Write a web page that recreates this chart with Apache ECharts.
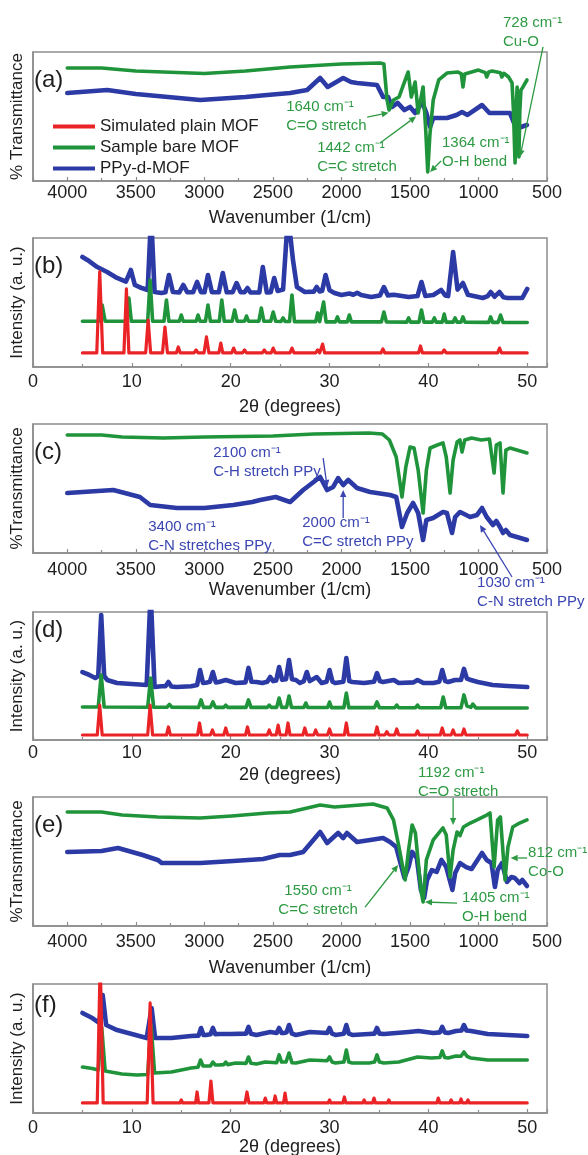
<!DOCTYPE html>
<html>
<head>
<meta charset="utf-8">
<script src="https://cdn.jsdelivr.net/npm/echarts@6/dist/echarts.min.js"></script>
<style>
  html, body { margin: 0; padding: 0; background: #fff; }
  #chart { width: 588px; height: 1155px; }
</style>
</head>
<body>
<div id="chart"></div>
<script>
// ---------- series names and tick labels ----------
const NAMES = ['Simulated plain MOF', 'Sample bare MOF', 'PPy-d-MOF'];
const ftirTickLabels = [4000, 3500, 3000, 2500, 2000, 1500, 1000, 500];
const xrdTickLabels = [0, 10, 20, 30, 40, 50];

// ---------- FTIR (a): Cu MOF ----------
const ftirA_bare = [[4000,87.6],[3750,87.6],[3500,85.3],[3000,83.3],[2700,85.3],[2374,88.4],[2000,90.7],[1718,91.5],[1690,90.7],[1667,62.8],[1652,55],[1620,62.8],[1580,65.1],[1513,84.5],[1490,65.1],[1462,76.7],[1440,52.7],[1404,72.9],[1385,40],[1370,7],[1355,35],[1330,62.8],[1290,78.3],[1230,83.7],[1150,84.5],[1125,83],[1113,72.9],[1100,83],[1090,84.5],[1000,86],[950,84],[940,80.6],[925,84.5],[900,85.3],[840,84],[830,80.6],[815,83.5],[780,80.6],[755,76],[745,55],[733,14],[725,55],[718,72.9],[712,60],[705,18.6],[698,55],[690,70.5],[675,72.9],[646,78.3]];
const ftirA_ppy = [[4000,68.2],[3708,70.5],[3500,67.4],[3030,62.8],[2700,65.1],[2542,66.7],[2374,68.2],[2250,70.5],[2155,79.8],[2100,72.9],[1987,79.8],[1930,76.7],[1886,76],[1740,74.4],[1696,65.1],[1659,65.1],[1630,57.4],[1590,60.5],[1540,55],[1499,57.4],[1462,52.7],[1411,61.2],[1380,52.7],[1353,41.9],[1330,48.8],[1229,48.8],[1160,51.2],[1120,53.5],[1080,51.2],[974,58.9],[920,52.7],[843,52.7],[770,52.7],[719,39.5],[690,41.9],[646,43.4]];

// ---------- XRD (b) ----------
const xrdB_sim = [[5,10.9],[6.45,10.9],[6.75,74],[7.05,10.9],[9.2,10.9],[9.45,60.5],[9.7,10.9],[11.4,10.9],[11.65,36.4],[11.9,10.9],[13.1,10.9],[13.35,31],[13.6,10.9],[14.5,10.9],[14.7,15.5],[14.9,10.9],[16.3,10.9],[16.5,13.2],[16.7,10.9],[17.3,10.9],[17.55,23.3],[17.8,10.9],[18.8,10.9],[19.0,18.6],[19.2,10.9],[20.1,10.9],[20.3,14.7],[20.5,10.9],[21.2,10.9],[21.4,13.2],[21.6,10.9],[23.2,10.9],[23.4,13.2],[23.6,10.9],[24.1,10.9],[24.3,14.7],[24.5,10.9],[26.0,10.9],[26.2,14.7],[26.4,10.9],[28.6,10.9],[28.8,13.2],[29.0,10.9],[29.1,10.9],[29.3,17.8],[29.5,10.9],[30.8,10.9],[31.0,12.4],[31.2,10.9],[31.8,10.9],[32.0,12],[32.2,10.9],[35.2,10.9],[35.4,14],[35.6,10.9],[38.0,10.9],[38.2,12.4],[38.4,10.9],[39.0,10.9],[39.2,16.3],[39.4,10.9],[40.3,10.9],[40.5,12],[40.7,10.9],[41.4,10.9],[41.6,13.2],[41.8,10.9],[42.6,10.9],[42.8,12.4],[43.0,10.9],[46.1,10.9],[46.3,12.4],[46.5,10.9],[47.0,10.9],[47.2,14.7],[47.4,10.9],[50,10.9]];
const xrdB_bare = [[5,35.5],[6.7,35.5],[7.0,48.1],[7.3,35.5],[9.45,35.5],[9.7,53.5],[9.95,35.5],[11.6,35.5],[11.85,67.4],[12.1,35.5],[13.25,35.5],[13.5,51.9],[13.75,35.5],[14.8,35.5],[15.0,40.3],[15.2,35.5],[16.5,35.5],[16.7,40.3],[16.9,35.5],[17.45,35.5],[17.7,48.1],[17.95,35.5],[18.85,35.5],[19.1,51.9],[19.35,35.5],[20.15,35.5],[20.4,44.2],[20.65,35.5],[21.4,35.5],[21.6,39.5],[21.8,35.5],[22.85,35.5],[23.1,45.7],[23.35,35.5],[24.05,35.5],[24.3,42.6],[24.55,35.5],[25.1,35.3],[25.3,38],[25.5,35.3],[25.95,35.3],[26.2,55.8],[26.45,35.2],[28.6,35.2],[28.8,41.9],[29.0,35.2],[29.15,35.2],[29.4,50.4],[29.65,35],[30.6,35],[30.8,38.8],[31.0,35],[31.8,35],[32.0,40.3],[32.2,35],[35.25,35],[35.5,42.6],[35.75,35],[37.8,34.8],[38.0,38],[38.2,34.8],[39.05,34.8],[39.3,44.2],[39.55,34.8],[40.4,34.8],[40.6,38],[40.8,34.8],[41.4,34.8],[41.6,41],[41.8,34.8],[42.5,34.8],[42.7,38],[42.9,34.8],[43.3,34.8],[43.5,38.8],[43.7,34.8],[46.1,34.6],[46.3,38.8],[46.5,34.6],[47.05,34.6],[47.3,40.3],[47.55,34.6],[50,34.5]];
const xrdB_ppy = [[5,85.3],[5.5,83],[6.5,77.5],[7.5,73.6],[8.5,69],[9.4,66.2],[9.9,75.2],[10.3,63.6],[11.0,61.2],[11.6,59.7],[11.95,118],[12.3,58.1],[13.0,57.4],[13.4,58],[13.75,71.3],[14.15,58.1],[14.8,57.8],[15.2,63.6],[15.6,58],[16.2,58],[16.6,65.9],[17.0,58],[17.35,58],[17.7,71.3],[18.1,58],[18.8,58],[19.2,72.9],[19.6,58],[20.2,58],[20.6,65.1],[21.0,58],[21.4,58],[21.7,61.2],[22.0,57.8],[22.9,57.8],[23.25,77.5],[23.65,57.8],[24.05,58],[24.4,69],[24.75,59],[25.3,60],[25.8,118],[26.3,83],[26.7,62],[27.5,58.1],[28.4,58.4],[28.7,62],[29.0,58.5],[29.25,59],[29.6,71.3],[30.0,59.5],[30.5,57.4],[31.2,55.8],[32.0,57],[32.4,56],[32.8,57.5],[33.2,55.8],[34.2,54.3],[35.1,55.5],[35.5,62],[35.9,55.5],[36.5,56],[38.0,54.3],[38.9,55],[39.3,65.9],[39.7,55],[40.5,55.8],[41.3,59.7],[41.7,55.5],[42.0,55],[42.5,89.1],[42.95,60],[43.5,65.1],[44.0,56],[44.2,56.5],[45.5,53.5],[46.0,55],[46.3,58.1],[46.7,54.5],[47.2,58.1],[47.6,54],[48.0,53.5],[49.5,53.5],[50,60.5]];

// ---------- FTIR (c) ----------
const ftirC_bare = [[4000,91.5],[3750,91.5],[3600,89.9],[3300,89.1],[3000,89.9],[2500,90.7],[2200,92.2],[1800,93],[1700,92.2],[1650,87.6],[1600,74.4],[1558,43.4],[1530,66.7],[1499,82.2],[1470,81.4],[1440,64.3],[1404,31],[1380,64.3],[1353,81.4],[1300,83.7],[1259,85.3],[1235,74.4],[1207,46.5],[1185,72.1],[1156,86],[1135,87.6],[1120,78.3],[1100,87.6],[1050,89.1],[980,87.6],[920,88.4],[886,62],[870,83.7],[843,85.3],[821,46.5],[800,79.8],[770,81.4],[720,79.8],[646,77.5]];
const ftirC_ppy = [[4000,46.5],[3664,48.8],[3470,43.4],[3395,37.2],[3200,34.9],[3000,34.9],[2789,37.2],[2650,39.5],[2593,41.1],[2480,43.4],[2374,39.5],[2279,48.8],[2155,58.9],[2104,48.8],[2060,51.2],[2024,58.1],[1987,52.7],[1950,56.6],[1886,50.4],[1790,47.3],[1645,45],[1600,43.4],[1558,20.2],[1520,31],[1477,38.8],[1440,31],[1404,10.1],[1380,25.6],[1331,27.1],[1259,31.8],[1230,31],[1193,15.5],[1170,27.9],[1134,31.8],[1061,27.9],[1010,29.5],[974,34.9],[940,27.9],[894,21.7],[870,24.8],[843,20.2],[821,15.5],[800,17.8],[770,14],[720,12.4],[646,10.1]];

// ---------- XRD (d) ----------
const xrdD_sim = [[5,3.9],[6.5,3.9],[6.75,27.3],[7.0,3.9],[11.6,3.9],[11.85,27.3],[12.1,3.9],[13.5,3.9],[13.7,10.2],[13.9,3.9],[16.65,3.9],[16.85,13.3],[17.05,3.9],[17.95,3.9],[18.15,7.8],[18.35,3.9],[19.3,3.9],[19.5,9.4],[19.7,3.9],[21.5,3.9],[21.7,10.2],[21.9,3.9],[23.7,3.9],[23.9,7.8],[24.1,3.9],[24.6,3.9],[24.8,11.7],[25.0,3.9],[25.6,3.9],[25.8,13.3],[26.0,3.9],[27.3,3.9],[27.5,9.4],[27.7,3.9],[28.4,3.9],[28.6,7.8],[28.8,3.9],[29.8,3.9],[30.0,8.6],[30.2,3.9],[31.5,3.9],[31.7,13.3],[31.9,3.9],[34.6,3.9],[34.8,10.2],[35.0,3.9],[35.6,3.9],[35.8,6.5],[36.0,3.9],[36.6,3.9],[36.8,8.6],[37.0,3.9],[38.7,3.9],[38.9,7],[39.1,3.9],[41.2,3.9],[41.4,9.4],[41.6,3.9],[42.3,3.9],[42.5,7.8],[42.7,3.9],[43.4,3.9],[43.6,8.6],[43.8,3.9],[48.8,3.9],[49.0,7],[49.2,3.9],[50,3.9]];
const xrdD_bare = [[5,25.8],[6.6,25.8],[6.9,50.8],[7.2,25.8],[11.6,25.6],[11.9,48.4],[12.2,25.6],[13.55,25.6],[13.8,27.8],[14.05,25.6],[16.75,25.5],[17.0,31.3],[17.25,25.5],[17.95,25.5],[18.2,29.7],[18.45,25.5],[19.3,25.5],[19.5,27.3],[19.7,25.5],[21.55,25.5],[21.8,31.3],[22.05,25.5],[23.7,25.5],[23.9,27.3],[24.1,25.5],[24.65,25.5],[24.9,32.8],[25.15,25.5],[25.65,25.5],[25.9,34.4],[26.15,25.4],[27.4,25.4],[27.6,28.9],[27.8,25.4],[28.5,25.4],[28.7,26.6],[28.9,25.4],[29.8,25.4],[30.0,29.7],[30.2,25.3],[31.45,25.3],[31.7,36.7],[31.95,25.3],[34.55,25.3],[34.8,29.7],[35.05,25.2],[36.6,25.2],[36.8,27.3],[37.0,25.2],[38.7,25.2],[38.9,27.3],[39.1,25.2],[41.25,25.2],[41.5,33.6],[41.75,25.2],[43.3,25.2],[43.6,35.2],[43.9,26.5],[44.3,25.5],[44.5,28.1],[44.8,25.1],[50,25]];
const xrdD_ppy = [[5,53.1],[5.7,50.8],[6.3,48.4],[6.6,50],[6.9,97.7],[7.2,50],[7.5,46.9],[8.5,44.5],[10,43.8],[11.5,43],[11.9,115],[12.3,41.4],[13.0,42],[13.4,42],[13.7,45.3],[14.0,41.8],[14.5,41.4],[16.0,42],[16.6,43],[16.9,54.7],[17.2,44.5],[17.6,45],[17.9,45.5],[18.2,53.1],[18.5,45],[18.8,45.3],[19.5,46.9],[20.5,44.5],[21.5,45],[21.8,56.3],[22.1,45.5],[22.6,45.3],[23.2,44.5],[23.7,45.5],[24.0,49.2],[24.3,46],[24.6,46.5],[24.9,57],[25.2,47],[25.6,47.5],[25.9,62.5],[26.2,47.5],[26.6,46.9],[27.0,44.5],[27.4,46],[27.7,53.1],[28.0,46],[28.2,45.3],[28.7,49.2],[29.2,44.5],[29.7,45.5],[30.0,54.7],[30.3,45.5],[30.6,44.5],[31.4,45.5],[31.7,64.1],[32.0,46],[32.3,45.3],[33.5,44.5],[34.5,45.5],[34.8,52.3],[35.1,46],[35.4,45.3],[36.5,46.9],[37.0,44.5],[38.5,45],[38.9,46.9],[39.5,44.5],[40.5,44.5],[41.1,45.5],[41.4,54.7],[41.7,46],[42.0,45.3],[42.7,46.9],[43.3,47],[43.6,55.5],[43.9,48],[44.3,46.9],[45,45.3],[46.5,43],[48,42.2],[50,41.4]];

// ---------- FTIR (e): Co MOF ----------
const ftirE_bare = [[4000,88.4],[3750,88.4],[3600,86],[3340,84.5],[3030,83.7],[2800,85.3],[2540,87.6],[2374,88.4],[2155,93.8],[2050,92.2],[1769,94.6],[1667,91.5],[1620,82.2],[1580,61.2],[1535,35.7],[1510,58.9],[1484,78.3],[1460,72.1],[1420,27.9],[1404,18.6],[1380,51.2],[1330,66.7],[1259,76],[1235,70.5],[1207,38],[1185,58.9],[1156,72.9],[1135,70],[1110,76.7],[1060,79.8],[1010,82.2],[940,86],[916,87.6],[886,45.7],[860,82.2],[840,84.5],[806,35.7],[785,61.2],[750,76.7],[700,79.8],[646,82.2]];
const ftirE_ppy = [[4000,57.4],[3750,58.1],[3630,60.5],[3450,55],[3340,51.2],[3310,48.8],[3030,48.8],[2789,50.4],[2570,51.9],[2450,55],[2374,55],[2279,57.4],[2155,72.9],[2104,64.3],[2024,72.1],[1987,68.2],[1960,72.1],[1886,65.1],[1790,66.7],[1696,68.2],[1645,65.1],[1600,61.2],[1540,37.2],[1510,45.7],[1484,57.4],[1450,52.7],[1420,27.9],[1397,21.7],[1375,35.7],[1340,43.4],[1305,41.9],[1270,51.2],[1235,45.7],[1190,27.9],[1170,41.1],[1134,48.8],[1090,45.7],[1050,44.2],[974,56.6],[940,51.2],[905,48.8],[880,30.2],[860,43.4],[828,48.8],[792,34.1],[760,38],[735,37.2],[700,33.3],[680,35.7],[646,31]];

// ---------- XRD (f) ----------
const xrdF_sim = [[5,7.8],[6.5,7.8],[6.8,118],[7.1,7.8],[11.55,7.8],[11.85,85.3],[12.15,7.8],[14.85,7.8],[15.0,10.1],[15.15,7.8],[16.45,7.8],[16.6,16.3],[16.75,7.8],[17.8,7.8],[18.0,24.8],[18.2,7.8],[20.15,7.8],[20.3,9.3],[20.45,7.8],[21.45,7.8],[21.65,16.3],[21.85,7.8],[23.35,7.8],[23.5,11.6],[23.65,7.8],[24.35,7.8],[24.5,13.2],[24.65,7.8],[25.35,7.8],[25.5,15.5],[25.65,7.8],[27.85,7.8],[28.0,9.3],[28.15,7.8],[29.85,7.8],[30.0,10.1],[30.15,7.8],[31.35,7.8],[31.5,12.4],[31.65,7.8],[33.35,7.8],[33.5,10.1],[33.65,7.8],[34.35,7.8],[34.5,11.6],[34.65,7.8],[35.85,7.8],[36.0,10.1],[36.15,7.8],[38.85,7.8],[39.0,9.3],[39.15,7.8],[40.85,7.8],[41.0,11.6],[41.15,7.8],[42.15,7.8],[42.3,10.1],[42.45,7.8],[43.15,7.8],[43.3,10.9],[43.45,7.8],[43.85,7.8],[44.0,10.1],[44.15,7.8],[50,7.8]];
const xrdF_bare = [[5,35.7],[6.0,34.5],[6.6,33.3],[6.95,66.7],[7.3,32.5],[7.5,31.8],[9.0,30.2],[10.5,29.5],[11.6,29.8],[11.95,68.2],[12.3,31],[14.0,31.8],[16.0,34.9],[16.7,35.5],[16.95,41.1],[17.2,36.4],[17.5,36.4],[17.95,36.5],[18.2,39.5],[18.45,37.2],[18.8,37.2],[19.3,37.5],[19.5,39.5],[19.7,37.5],[20.5,38.8],[21.55,38.5],[21.8,43.4],[22.05,38.5],[22.6,38],[23.5,39.5],[24.65,39],[24.9,45],[25.15,39.5],[25.6,39.5],[25.9,46.5],[26.2,39],[26.6,38.8],[28,41.1],[29.75,40.5],[30,43.4],[30.25,39.5],[30.6,38.8],[31.45,39.5],[31.7,48.8],[31.95,39.5],[32.3,38.8],[34,38.8],[34.55,39.5],[34.8,45],[35.05,39.5],[35.5,38.8],[37,39.5],[38.9,43.4],[40.3,42.6],[41.15,43],[41.4,48.1],[41.65,43],[42.0,42.6],[42.8,44.2],[43.3,44],[43.6,47.3],[43.9,44],[44.3,42.6],[46,41.1],[48,41.1],[50,41.1]];
const xrdF_ppy = [[5,77.5],[6.0,73.6],[6.7,69.8],[7.05,91.5],[7.4,68.2],[8.5,64.3],[10,61.2],[11.5,58.1],[11.7,58.1],[12.0,81.4],[12.35,58.1],[14,58.1],[16,59.7],[16.75,60],[17.0,65.9],[17.25,60.5],[17.5,60.5],[17.95,61],[18.2,65.9],[18.45,61],[18.8,61.2],[20,61.2],[21.55,61.5],[21.8,66.7],[22.05,61.5],[22.6,60.5],[24.0,62.8],[24.65,62],[24.9,65.9],[25.15,62],[25.4,62],[25.65,62.5],[25.9,68.2],[26.2,61.5],[26.6,60.5],[28,62.8],[29.75,62],[30,65.9],[30.25,61.5],[30.6,60.5],[31.45,61.5],[31.7,68.2],[31.95,61.5],[32.3,60.5],[34,61.2],[34.55,61.5],[34.8,65.9],[35.05,61.5],[35.5,61.2],[38,62.8],[39,63.6],[40.5,62],[41.15,62.5],[41.4,66.7],[41.65,62.5],[42.0,62],[42.8,63.6],[43.35,64],[43.6,68.2],[43.85,64],[44.3,63.6],[46,61.2],[48,60.5],[50,59.7]];

// ---------- band assignments (text anchor = left edge / first line centre, in data units) ----------
const notesA = [
  { lines: ['1640 cm⁻¹', 'C=O stretch'], at: [2403, 57.4], arrow: [[1812, 49.6], [1655, 53]] },
  { lines: ['1442 cm⁻¹', 'C=C stretch'], at: [2177, 25.6], arrow: [[1718, 29.5], [1455, 50]] },
  { lines: ['1364 cm⁻¹', 'O-H bend'], at: [1266, 29.5], arrow: [[1273, 15.5], [1353, 7]] },
  { lines: ['728 cm⁻¹', 'Cu-O'], at: [821, 122.5], arrow: [[529, 104], [697, 18.6]] }
];
const notesC = [
  { lines: ['2100 cm⁻¹', 'C-H stretch PPy'], at: [2935, 77.5], arrow: [[2133, 73.6], [2104, 51.2]] },
  { lines: ['2000 cm⁻¹', 'C=C stretch PPy'], at: [2286, 23.3], arrow: [[1987, 27.1], [1987, 48.8]] },
  { lines: ['3400 cm⁻¹', 'C-N stretches PPy'], at: [3409, 20.2] },
  { lines: ['1030 cm⁻¹', 'C-N stretch PPy'], at: [1010, -23.3], arrow: [[755, -18.6], [989, 21.7]] }
];
const notesE = [
  { lines: ['1192 cm⁻¹', 'C=O stretch'], at: [1441, 118.6], arrow: [[1185, 99.2], [1185, 78.3]] },
  { lines: ['812 cm⁻¹', 'Co-O'], at: [638, 56.6], arrow: [[645, 52.7], [765, 52.7]] },
  { lines: ['1550 cm⁻¹', 'C=C stretch'], at: [2170, 27.1], align: 'center', arrow: [[1827, 14.7], [1586, 47.3]] },
  { lines: ['1405 cm⁻¹', 'O-H bend'], at: [1120, 21.7], arrow: [[1156, 17.8], [1390, 18.6]] }
];

// ---------- styling ----------
const FONT = '"Liberation Sans", Arial, Helvetica, sans-serif';
const AXIS_GRAY = '#8d8d8d';
const TEXT = '#1e1e1e';
const SERIES_STYLE = {
  'Simulated plain MOF': { color: '#ea2327', width: 3.2 },
  'Sample bare MOF':     { color: '#1f943a', width: 3.6 },
  'PPy-d-MOF':           { color: '#2c3aa5', width: 4.6 }
};
const NOTE_GREEN = '#2d9a43';
const NOTE_BLUE = '#3a45b2';
const NOTE_LINE_H = 19;

const panels = [
  { tag: '(a)', kind: 'ftir', top: 52,  height: 129, labelMargin: 3, nameGap: 28, yName: '% Transmittance',
    lines: [[NAMES[2], ftirA_ppy], [NAMES[1], ftirA_bare]], notes: notesA, noteColor: NOTE_GREEN },
  { tag: '(b)', kind: 'xrd',  top: 238, height: 129, labelMargin: 6, nameGap: 31, yName: 'Intensity (a. u.)',
    lines: [[NAMES[2], xrdB_ppy], [NAMES[1], xrdB_bare], [NAMES[0], xrdB_sim]] },
  { tag: '(c)', kind: 'ftir', top: 424, height: 129, labelMargin: 8, nameGap: 28, yName: '%Transmittance',
    lines: [[NAMES[2], ftirC_ppy], [NAMES[1], ftirC_bare]], notes: notesC, noteColor: NOTE_BLUE },
  { tag: '(d)', kind: 'xrd',  top: 612, height: 128, labelMargin: 4, nameGap: 26, yName: 'Intensity (a. u.)',
    lines: [[NAMES[2], xrdD_ppy], [NAMES[1], xrdD_bare], [NAMES[0], xrdD_sim]] },
  { tag: '(e)', kind: 'ftir', top: 797, height: 129, labelMargin: 7, nameGap: 33, yName: '%Transmittance',
    lines: [[NAMES[2], ftirE_ppy], [NAMES[1], ftirE_bare]], notes: notesE, noteColor: NOTE_GREEN },
  { tag: '(f)', kind: 'xrd',  top: 984, height: 129, labelMargin: 6, nameGap: 25, yName: 'Intensity (a. u.)',
    lines: [[NAMES[2], xrdF_ppy], [NAMES[1], xrdF_bare], [NAMES[0], xrdF_sim]] }
];

function arrowShapes(p1, p2, color) {
  const dx = p2[0] - p1[0], dy = p2[1] - p1[1];
  const len = Math.hypot(dx, dy) || 1;
  const ux = dx / len, uy = dy / len;
  const L = 7, W = 3.2;
  const bx = p2[0] - ux * L, by = p2[1] - uy * L;
  return [
    { type: 'line', shape: { x1: p1[0], y1: p1[1], x2: bx, y2: by }, style: { stroke: color, lineWidth: 1.3 } },
    { type: 'polygon', shape: { points: [[p2[0], p2[1]], [bx - uy * W, by + ux * W], [bx + uy * W, by - ux * W]] }, style: { fill: color } }
  ];
}

function noteSeries(idx, notes, color) {
  return {
    type: 'custom',
    xAxisIndex: idx, yAxisIndex: idx,
    silent: true, clip: false, z: 10,
    data: notes.map(n => n.at),
    renderItem(params, api) {
      const n = notes[params.dataIndex];
      const p = api.coord(n.at);
      const children = [{
        type: 'text', x: p[0], y: p[1] - NOTE_LINE_H / 2,
        style: {
          text: n.lines.join('\n'), fill: color,
          fontSize: 15, fontFamily: FONT, lineHeight: NOTE_LINE_H,
          align: n.align || 'left', verticalAlign: 'top',
          textAlign: n.align || 'left', textVerticalAlign: 'top'
        }
      }];
      if (n.arrow) children.push(...arrowShapes(api.coord(n.arrow[0]), api.coord(n.arrow[1]), color));
      return { type: 'group', children };
    }
  };
}

const option = {
  animation: false,
  textStyle: { fontFamily: FONT },
  grid: [], xAxis: [], yAxis: [], series: [], graphic: [],
  legend: {
    data: NAMES, orient: 'vertical', left: 53, top: 118, padding: 0,
    icon: 'rect', itemWidth: 42, itemHeight: 4, itemGap: 4,
    selectedMode: false,
    textStyle: { fontSize: 17, color: TEXT, fontFamily: FONT }
  }
};

panels.forEach((pn, i) => {
  const ftir = pn.kind === 'ftir';
  const ticks = ftir ? ftirTickLabels : xrdTickLabels;
  option.grid.push({
    left: 33, right: 41, top: pn.top, height: pn.height,
    show: true, borderColor: AXIS_GRAY, borderWidth: 1.5, backgroundColor: 'transparent',
    containLabel: false, outerBoundsMode: 'none'
  });
  option.xAxis.push({
    type: 'value', gridIndex: i,
    min: ftir ? 500 : 0, max: ftir ? 4250 : 52, interval: ftir ? 500 : 10, inverse: ftir,
    name: ftir ? 'Wavenumber (1/cm)' : '2θ (degrees)',
    nameLocation: 'middle', nameGap: pn.nameGap,
    nameTextStyle: { fontSize: 18, color: TEXT, fontFamily: FONT },
    axisLine: { show: true, onZero: false, lineStyle: { color: AXIS_GRAY, width: 1.5 } },
    axisTick: { show: true, inside: true, length: 4, lineStyle: { color: AXIS_GRAY, width: 1.2 } },
    minorTick: { show: true, splitNumber: 2, length: 3, lineStyle: { color: AXIS_GRAY, width: 1.2 } },
    axisLabel: {
      fontSize: 18, color: TEXT, fontFamily: FONT, margin: pn.labelMargin,
      formatter: v => (ticks.indexOf(v) >= 0 ? String(v) : '')
    },
    splitLine: { show: false }, minorSplitLine: { show: false }
  });
  option.yAxis.push({
    type: 'value', gridIndex: i, min: 0, max: 100,
    name: pn.yName, nameLocation: 'middle', nameGap: 7,
    nameTextStyle: { fontSize: 17, color: TEXT, fontFamily: FONT },
    axisLine: { show: true, lineStyle: { color: AXIS_GRAY, width: 1.5 } },
    axisTick: { show: false }, axisLabel: { show: false }, splitLine: { show: false }
  });
  pn.lines.forEach(([name, data]) => {
    const st = SERIES_STYLE[name];
    option.series.push({
      type: 'line', name, xAxisIndex: i, yAxisIndex: i, data,
      showSymbol: false, symbol: 'none', clip: true,
      lineStyle: { color: st.color, width: st.width, join: 'round', cap: 'round' },
      itemStyle: { color: st.color },
      emphasis: { disabled: true }
    });
  });
  if (pn.notes) option.series.push(noteSeries(i, pn.notes, pn.noteColor));
  option.graphic.push({
    type: 'text', left: 34, top: pn.top + (i === 3 ? 6 : (i === 5 ? 9 : 16)),
    style: { text: pn.tag, fontSize: 24, fontFamily: FONT, fill: TEXT }
  });
});

const chart = echarts.init(document.getElementById('chart'), null, { renderer: 'canvas' });
chart.setOption(option);
</script>
</body>
</html>
